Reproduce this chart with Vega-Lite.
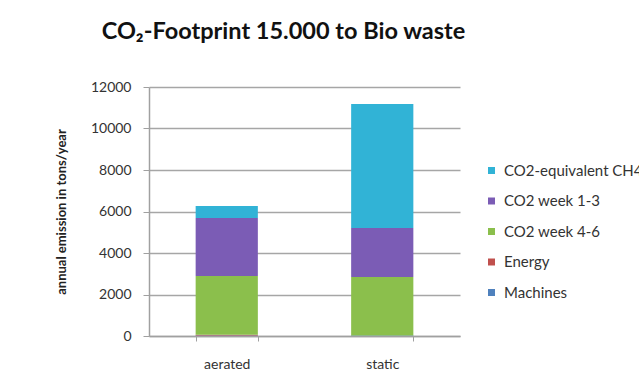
{
  "$schema": "https://vega.github.io/schema/vega-lite/v6.json",
  "width": 311,
  "height": 249,
  "autosize": {"type": "none"},
  "padding": {"left": 149, "top": 87, "right": 179, "bottom": 45},
  "background": "white",
  "title": {
    "text": "CO₂-Footprint 15.000 to Bio waste",
    "font": "Lato",
    "fontSize": 23.5,
    "fontWeight": "bold",
    "color": "#111111",
    "anchor": "middle",
    "dx": -21,
    "offset": 37
  },
  "data": {
    "values": [
      {"method": "aerated", "component": "Machines", "layer": 1, "emission": 20},
      {"method": "aerated", "component": "Energy", "layer": 2, "emission": 40},
      {"method": "aerated", "component": "CO2 week 4-6", "layer": 3, "emission": 2830},
      {"method": "aerated", "component": "CO2 week 1-3", "layer": 4, "emission": 2797},
      {"method": "aerated", "component": "CO2-equivalent CH4", "layer": 5, "emission": 578},
      {"method": "static", "component": "Machines", "layer": 1, "emission": 20},
      {"method": "static", "component": "Energy", "layer": 2, "emission": 10},
      {"method": "static", "component": "CO2 week 4-6", "layer": 3, "emission": 2813},
      {"method": "static", "component": "CO2 week 1-3", "layer": 4, "emission": 2362},
      {"method": "static", "component": "CO2-equivalent CH4", "layer": 5, "emission": 5975}
    ]
  },
  "mark": {"type": "bar"},
  "encoding": {
    "x": {
      "field": "method",
      "type": "nominal",
      "sort": ["aerated", "static"],
      "scale": {"paddingInner": 0.6, "paddingOuter": 0.3},
      "axis": {
        "title": null,
        "labelAngle": 0,
        "labelFont": "Lato",
        "labelFontSize": 14,
        "labelColor": "#333333",
        "labelPadding": 16,
        "domainColor": "#a0a0a0",
        "domainWidth": 1.5,
        "tickBand": "extent",
        "tickColor": "#a0a0a0",
        "tickSize": 5
      }
    },
    "y": {
      "field": "emission",
      "type": "quantitative",
      "stack": "zero",
      "scale": {"domain": [0, 12000]},
      "axis": {
        "values": [0, 2000, 4000, 6000, 8000, 10000, 12000],
        "format": "d",
        "title": "annual emission in tons/year",
        "titleFont": "Lato",
        "titleFontSize": 13,
        "titleFontWeight": "bold",
        "titleColor": "#222222",
        "titlePadding": 22,
        "labelFont": "Lato",
        "labelFontSize": 14,
        "labelColor": "#333333",
        "labelPadding": 12,
        "tickSize": 6,
        "tickColor": "#a0a0a0",
        "domainColor": "#a0a0a0",
        "domainWidth": 1.5,
        "grid": true,
        "gridColor": "#a6a6a6",
        "gridWidth": 1.5
      }
    },
    "color": {
      "field": "component",
      "type": "nominal",
      "scale": {
        "domain": ["CO2-equivalent CH4", "CO2 week 1-3", "CO2 week 4-6", "Energy", "Machines"],
        "range": ["#31B3D6", "#7B5CB5", "#8BBF4C", "#C0504D", "#4F81BD"]
      },
      "legend": {
        "title": null,
        "orient": "none",
        "legendX": 335,
        "legendY": 76,
        "symbolType": "square",
        "symbolSize": 49,
        "symbolStrokeWidth": 0,
        "labelFont": "Lato",
        "labelFontSize": 15,
        "labelColor": "#333333",
        "labelOffset": 5,
        "rowPadding": 14.5,
        "labelLimit": 300
      }
    },
    "order": {"field": "layer", "type": "quantitative"}
  },
  "config": {"view": {"stroke": null}}
}
